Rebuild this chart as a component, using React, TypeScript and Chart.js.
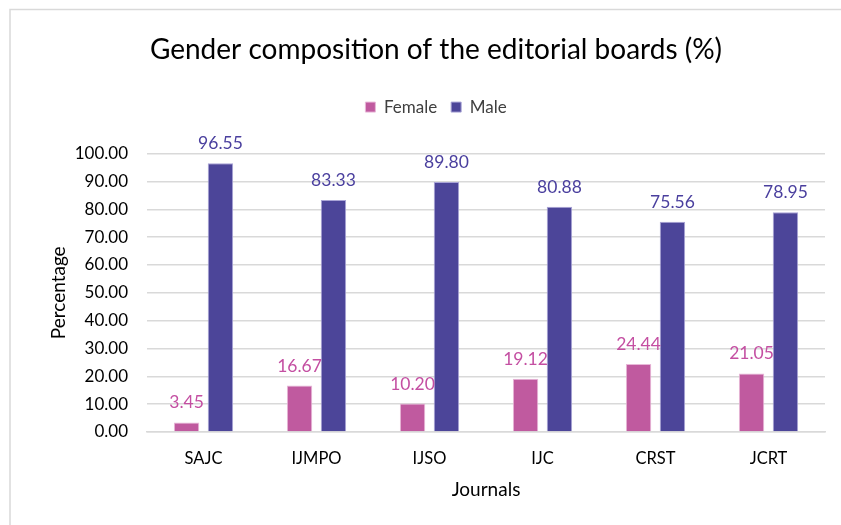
import React, { useEffect, useRef } from "react";
import { Chart, registerables } from "chart.js";

Chart.register(...registerables);

const categories = ["SAJC", "IJMPO", "IJSO", "IJC", "CRST", "JCRT"];
const femaleValues = [3.45, 16.67, 10.2, 19.12, 24.44, 21.05];
const maleValues = [96.55, 83.33, 89.8, 80.88, 75.56, 78.95];
const seriesNames = ["Female", "Male"];
const yTicks = [0, 10, 20, 30, 40, 50, 60, 70, 80, 90, 100];

const FONT = "Lato, 'Open Sans', sans-serif";
const FEMALE = "#C05A9F";
const MALE = "#4C4599";
const FEMALE_TXT = "#C44FA2";
const MALE_TXT = "#4A3F9E";

const labelPlugin = {
  id: "barLabels",
  afterDatasetsDraw(chart: any) {
    const ctx = chart.ctx;
    ctx.save();
    ctx.font = `17.5px ${FONT}`;
    ctx.textAlign = "center";
    ctx.textBaseline = "alphabetic";
    chart.data.datasets.forEach((ds: any, i: number) => {
      const meta = chart.getDatasetMeta(i);
      ctx.fillStyle = i === 0 ? FEMALE_TXT : MALE_TXT;
      meta.data.forEach((el: any, j: number) => {
        const v = ds.data[j] as number;
        ctx.fillText(v.toFixed(2), el.x, el.y - 14);
      });
    });
    ctx.restore();
  },
};

const frameAndLegendPlugin = {
  id: "frame",
  beforeInit(chart: any) {
    const legend = chart.legend;
    if (legend) {
      const orig = legend.fit;
      legend.fit = function () {
        orig.call(this);
        this.height += 28;
      };
    }
  },
  beforeDraw(chart: any) {
    const ctx = chart.ctx;
    ctx.save();
    ctx.fillStyle = "#ffffff";
    ctx.fillRect(0, 0, chart.width, chart.height);
    ctx.strokeStyle = "#d9d9d9";
    ctx.lineWidth = 1.5;
    ctx.beginPath();
    ctx.moveTo(10, chart.height);
    ctx.lineTo(10, 9.5);
    ctx.lineTo(chart.width, 9.5);
    ctx.stroke();
    ctx.restore();
  },
};

export default function App() {
  const ref = useRef<HTMLCanvasElement>(null);
  useEffect(() => {
    if (!ref.current) return;
    const chart = new Chart(ref.current, {
      type: "bar",
      data: {
        labels: categories,
        datasets: [
          {
            label: seriesNames[0],
            data: femaleValues,
            backgroundColor: FEMALE,
            borderColor: "#e8b8d8",
            borderWidth: 1,
            categoryPercentage: 0.6,
            barPercentage: 0.75,
          },
          {
            label: seriesNames[1],
            data: maleValues,
            backgroundColor: MALE,
            borderColor: "#a9a4d6",
            borderWidth: 1,
            categoryPercentage: 0.6,
            barPercentage: 0.75,
          },
        ],
      },
      options: {
        animation: false,
        responsive: false,
        maintainAspectRatio: false,
        layout: { padding: { left: 47, right: 16, top: 23, bottom: 24 } },
        plugins: {
          title: {
            display: true,
            text: "Gender composition of the editorial boards (%)",
            color: "#000000",
            font: { family: FONT, size: 28, weight: "normal" },
            padding: { top: 10, bottom: 18 },
          },
          legend: {
            display: true,
            position: "top",
            labels: {
              color: "#404040",
              font: { family: FONT, size: 17 },
              boxWidth: 10,
              boxHeight: 10,
              padding: 14,
            },
          },
          tooltip: { enabled: false },
        },
        scales: {
          x: {
            grid: { display: false },
            border: { color: "#d9d9d9", width: 1.5 },
            ticks: { color: "#000000", font: { family: FONT, size: 16.5 }, padding: 9 },
            afterFit: (scale: any) => {
              scale.height = 69;
            },
            title: {
              display: true,
              text: "Journals",
              color: "#000000",
              font: { family: FONT, size: 19 },
              padding: 0,
            },
          },
          y: {
            min: 0,
            max: 100,
            grid: { color: "#d9d9d9", lineWidth: 1.5, drawTicks: false },
            border: { display: false },
            afterBuildTicks: (scale: any) => {
              scale.ticks = yTicks.map((v) => ({ value: v }));
            },
            afterFit: (scale: any) => {
              scale.width = 100;
            },
            ticks: {
              color: "#000000",
              font: { family: FONT, size: 17 },
              padding: 19,
              callback: (v: any) => Number(v).toFixed(2),
            },
            title: {
              display: true,
              text: "Percentage",
              color: "#000000",
              font: { family: FONT, size: 19 },
              padding: 0,
            },
          },
        },
      },
      plugins: [frameAndLegendPlugin, labelPlugin],
    });
    return () => chart.destroy();
  }, []);
  return (
    <div style={{ position: "absolute", left: 0, top: 0, width: 841, height: 525 }}>
      <canvas ref={ref} width={841} height={525} style={{ display: "block" }} />
    </div>
  );
}
